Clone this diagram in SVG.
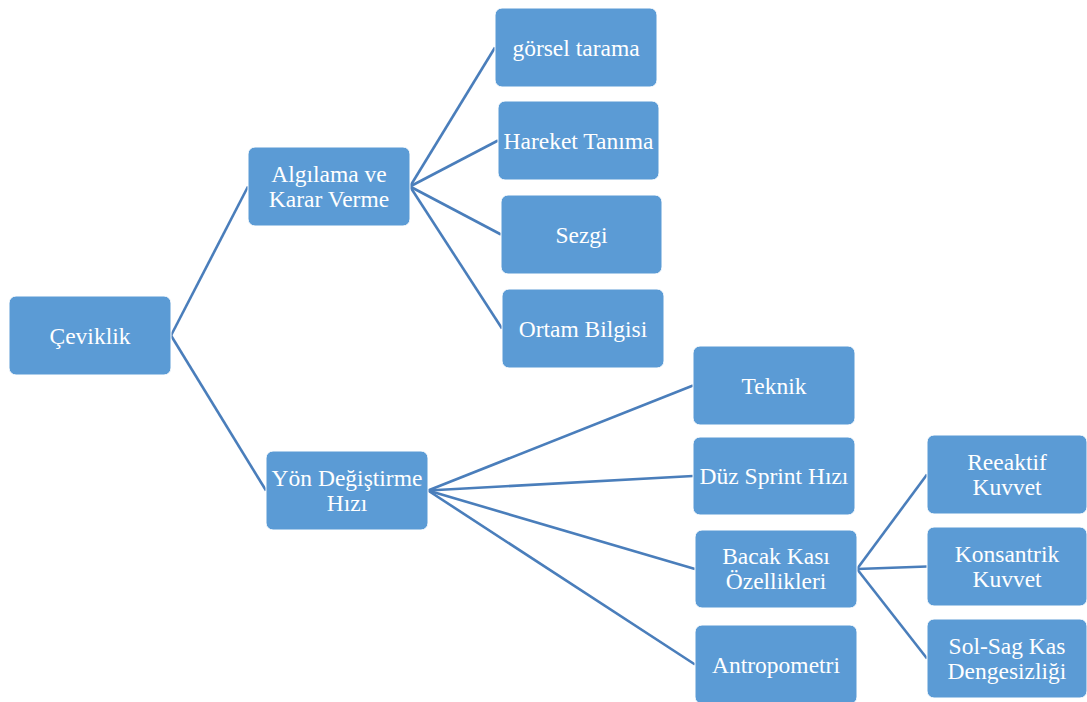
<svg xmlns="http://www.w3.org/2000/svg" width="1087" height="702" viewBox="0 0 1087 702">
<style>
.n rect{fill:#5B9BD5;stroke:#FFFFFF;stroke-width:1}
.n text{fill:#FFFFFF;font-family:'Liberation Serif','Times New Roman','DejaVu Serif',serif;font-size:23.5px;text-anchor:middle}
.c line{stroke:#4A7EBB;stroke-width:2.6;fill:none}
</style>
<rect width="1087" height="702" fill="#FFFFFF"/>
<g class="c" id="connectors">
<line x1="171" y1="335.5" x2="248" y2="186.5"/>
<line x1="171" y1="335.5" x2="266" y2="490.5"/>
<line x1="410" y1="186.5" x2="495" y2="47.5"/>
<line x1="410" y1="186.5" x2="498" y2="140.5"/>
<line x1="410" y1="186.5" x2="501" y2="234.5"/>
<line x1="410" y1="186.5" x2="502" y2="328.5"/>
<line x1="428" y1="490.5" x2="693" y2="385.5"/>
<line x1="428" y1="490.5" x2="693" y2="476"/>
<line x1="428" y1="490.5" x2="695" y2="569"/>
<line x1="428" y1="490.5" x2="695" y2="664.5"/>
<line x1="857" y1="569" x2="927" y2="474.5"/>
<line x1="857" y1="569" x2="927" y2="566.5"/>
<line x1="857" y1="569" x2="927" y2="658.5"/>
</g>
<g class="n" id="ceviklik"><rect x="9" y="296" width="162" height="79" rx="7"/><text x="90" y="343.5">Çeviklik</text></g>
<g class="n" id="algilama"><rect x="248" y="147" width="162" height="79" rx="7"/><text x="329" y="181.5">Algılama ve</text><text x="329" y="206.5">Karar Verme</text></g>
<g class="n" id="gorsel"><rect x="495" y="8" width="162" height="79" rx="7"/><text x="576" y="55.5">görsel tarama</text></g>
<g class="n" id="hareket"><rect x="498" y="101" width="161" height="79" rx="7"/><text x="578.5" y="148.5">Hareket Tanıma</text></g>
<g class="n" id="sezgi"><rect x="501" y="195" width="161" height="79" rx="7"/><text x="581.5" y="242.5">Sezgi</text></g>
<g class="n" id="ortam"><rect x="502" y="289" width="162" height="79" rx="7"/><text x="583" y="336.5">Ortam Bilgisi</text></g>
<g class="n" id="yon"><rect x="266" y="451" width="162" height="79" rx="7"/><text x="347" y="485.5">Yön Değiştirme</text><text x="347" y="510.5">Hızı</text></g>
<g class="n" id="teknik"><rect x="693" y="346" width="162" height="79" rx="7"/><text x="774" y="393.5">Teknik</text></g>
<g class="n" id="duz"><rect x="693" y="437" width="162" height="78" rx="7"/><text x="774" y="484">Düz Sprint Hızı</text></g>
<g class="n" id="bacak"><rect x="695" y="530" width="162" height="78" rx="7"/><text x="776" y="564">Bacak Kası</text><text x="776" y="589">Özellikleri</text></g>
<g class="n" id="antropometri"><rect x="695" y="625" width="162" height="79" rx="7"/><text x="776" y="672.5">Antropometri</text></g>
<g class="n" id="reeaktif"><rect x="927" y="435" width="160" height="79" rx="7"/><text x="1007" y="469.5">Reeaktif</text><text x="1007" y="494.5">Kuvvet</text></g>
<g class="n" id="konsantrik"><rect x="927" y="527" width="160" height="79" rx="7"/><text x="1007" y="561.5">Konsantrik</text><text x="1007" y="586.5">Kuvvet</text></g>
<g class="n" id="solsag"><rect x="927" y="619" width="160" height="79" rx="7"/><text x="1007" y="653.5">Sol-Sag Kas</text><text x="1007" y="678.5">Dengesizliği</text></g>
</svg>
